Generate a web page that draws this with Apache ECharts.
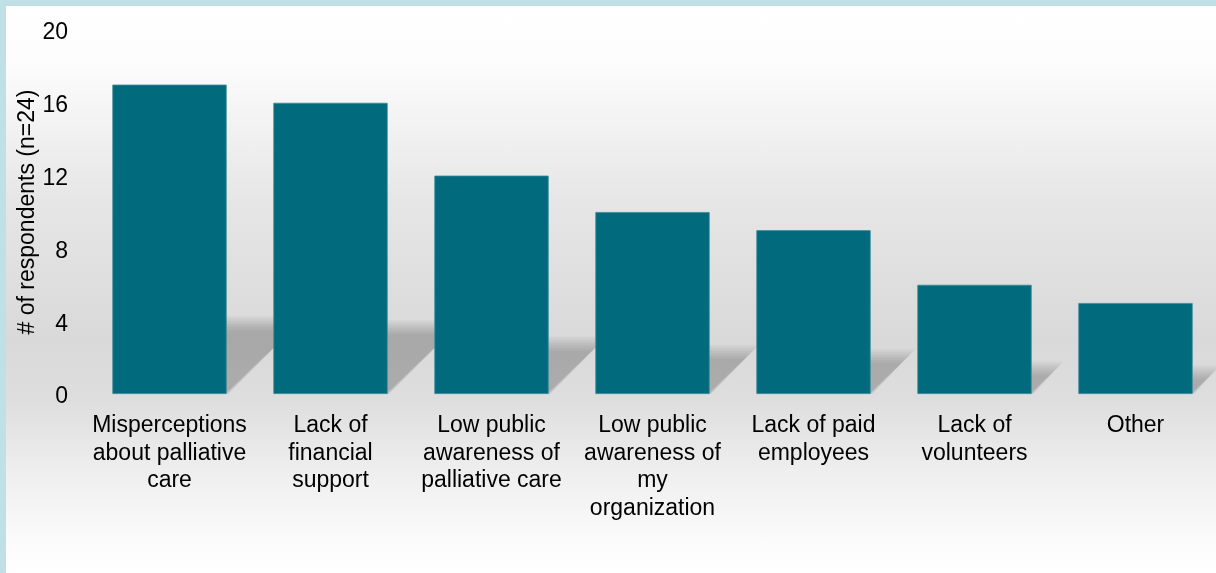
<!DOCTYPE html>
<html>
<head>
<meta charset="utf-8">
<script src="https://cdn.jsdelivr.net/npm/echarts@6/dist/echarts.min.js"></script>
<style>
  html, body { margin: 0; padding: 0; width: 1216px; height: 573px; overflow: hidden; }
  body {
    background: linear-gradient(to bottom, #ffffff 0px, #fdfdfd 60px, #e6e6e6 200px, #d9d9d9 340px, #dedede 400px, #eeeeee 470px, #fafafa 535px, #ffffff 573px);
  }
  #chart { position: absolute; left: 0; top: 0; width: 1216px; height: 573px; }
  .bt { position: absolute; left: 0; top: 0; width: 1216px; height: 6px; background: #c1dfe7; }
  .bl { position: absolute; left: 0; top: 0; width: 6px; height: 573px; background: #c1dfe7; }
</style>
</head>
<body>
<div id="chart"></div>
<div class="bt"></div>
<div class="bl"></div>
<script>
const categories = [
  'Misperceptions\nabout palliative\ncare',
  'Lack of\nfinancial\nsupport',
  'Low public\nawareness of\npalliative care',
  'Low public\nawareness of\nmy\norganization',
  'Lack of paid\nemployees',
  'Lack of\nvolunteers',
  'Other'
];
const respondents = [17, 16, 12, 10, 9, 6, 5];
const yTicks = { min: 0, max: 20, interval: 4 };
const yAxisTitle = '# of respondents (n=24)';

const FONT = 'Liberation Sans, Arial, sans-serif';
const chart = echarts.init(document.getElementById('chart'), null, { renderer: 'canvas' });

const shadowData = respondents.map((v, i) => [i, v]);

chart.setOption({
  backgroundColor: 'transparent',
  animation: false,
  grid: { left: 89, top: 30, width: 1135, bottom: 179, containLabel: false },
  xAxis: {
    type: 'category',
    data: categories,
    axisLine: { show: false },
    axisTick: { show: false },
    splitLine: { show: false },
    axisLabel: {
      interval: 0,
      color: '#000',
      fontFamily: FONT,
      fontSize: 23,
      lineHeight: 27.5,
      margin: 18
    }
  },
  yAxis: {
    type: 'value',
    min: yTicks.min,
    max: yTicks.max,
    interval: yTicks.interval,
    name: yAxisTitle,
    nameLocation: 'middle',
    nameGap: 50,
    nameMoveOverlap: false,
    nameTextStyle: { color: '#000', fontFamily: FONT, fontSize: 23 },
    axisLine: { show: false },
    axisTick: { show: false },
    splitLine: { show: false },
    axisLabel: { color: '#000', fontFamily: FONT, fontSize: 23, margin: 21, verticalAlign: 'top', lineHeight: 6 }
  },
  series: [
    {
      type: 'custom',
      z: 1,
      silent: true,
      data: shadowData,
      renderItem: function (params, api) {
        const idx = api.value(0);
        const val = api.value(1);
        const base = api.coord([idx, 0]);
        const topPt = api.coord([idx, val]);
        const catW = api.size([1, 0])[0];
        const halfW = catW * 0.355;
        const h = base[1] - topPt[1];
        const sh = h * 0.225;
        const dx = sh * 1.05;
        const xL = base[0] - halfW, xR = base[0] + halfW, y0 = base[1] - 2;
        const layers = [];
        const n = 10;
        for (let k = 0; k < n; k++) {
          const t = (k - n / 2) * 1.6;
          const s = sh + t;
          const d = dx + t;
          layers.push({
            type: 'polygon',
            shape: { points: [[xL, y0 + 2], [xR + t * 0.3, y0 + 2], [xR + d, y0 - s], [xL + d, y0 - s]] },
            style: { fill: 'rgba(0,0,0,0.026)' }
          });
        }
        return { type: 'group', children: layers };
      }
    },
    {
      type: 'bar',
      z: 2,
      data: respondents,
      barWidth: '71%',
      itemStyle: { color: '#016a7d', borderColor: '#3a8a99', borderWidth: 0.8 }
    }
  ]
});
</script>
</body>
</html>
